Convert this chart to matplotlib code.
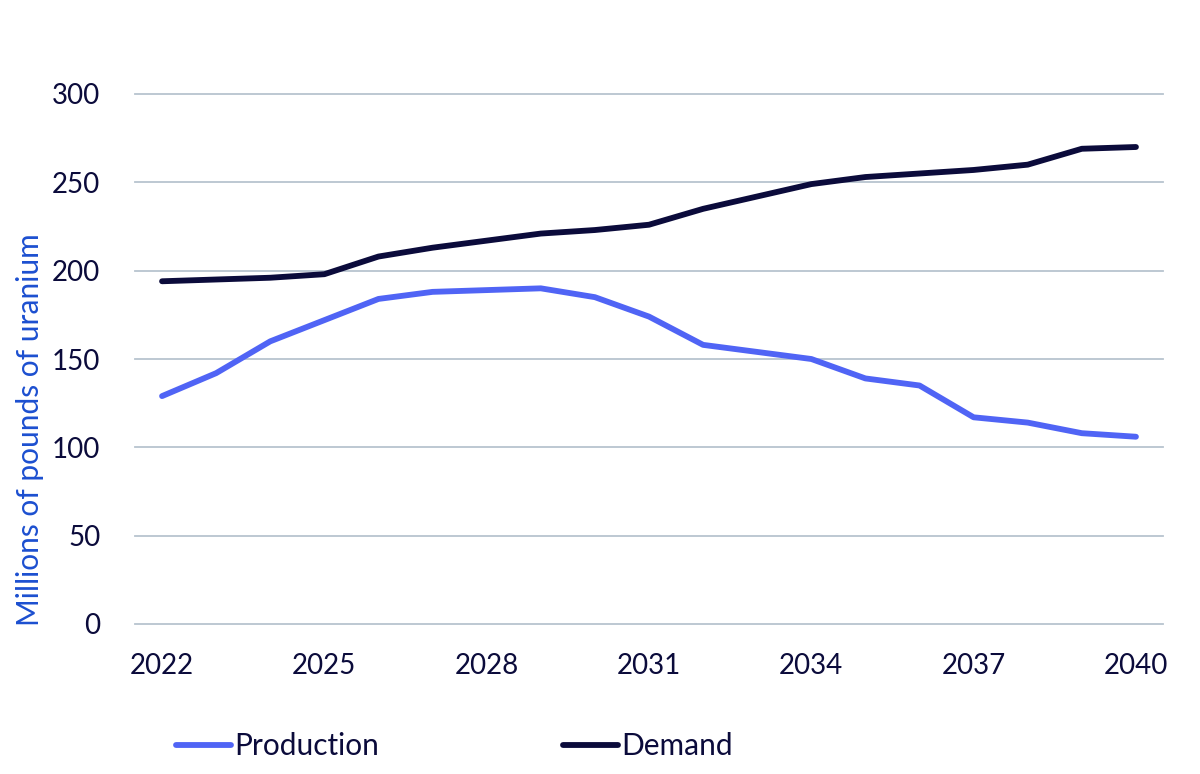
import matplotlib
matplotlib.use("Agg")
import matplotlib.pyplot as plt

years = list(range(2022, 2041))
production = [129, 142, 160, 172, 184, 188, 189, 190, 185, 174, 158, 154, 150, 139, 135, 117, 114, 108, 106]
demand = [194, 195, 196, 198, 208, 213, 217, 221, 223, 226, 235, 242, 249, 253, 255, 257, 260, 269, 270]
xticks = [2022, 2025, 2028, 2031, 2034, 2037, 2040]
yticks = [0, 50, 100, 150, 200, 250, 300]

plt.rcParams['font.family'] = ['Lato', 'DejaVu Sans']
navy = '#0b0b3b'
fig = plt.figure(figsize=(12, 7.74), dpi=100)
ax = fig.add_axes([135/1200, 1-624/774, (1163-135)/1200, (624-94)/774])

ax.plot(years, production, color='#5064f5', lw=4.2, label='Production', solid_capstyle='round', clip_on=False)
ax.plot(years, demand, color=navy, lw=4.2, label='Demand', solid_capstyle='round', clip_on=False)

ax.set_xlim(2021.5, 2040.5)
ax.set_ylim(0, 300)
ax.set_xticks(xticks)
ax.set_yticks(yticks)
ax.grid(axis='y', color='#b8c4cf', lw=1.3, clip_on=False)
ax.set_axisbelow(True)
for s in ax.spines.values():
    s.set_visible(False)
ax.tick_params(axis='both', length=0, labelsize=20, colors=navy)
ax.tick_params(axis='x', pad=21)
ax.tick_params(axis='y', pad=25)

fig.text(30/1200, 1-430/774, 'Millions of pounds of uranium', rotation=90,
         ha='center', va='center', fontsize=21.5, color='#1c4fd0')

fig.legend(loc='center left', bbox_to_anchor=(164/1200, 1-746/774), ncol=2, frameon=False,
           fontsize=21.5, handlelength=1.85, handletextpad=0.1, columnspacing=6.15,
           labelcolor=navy, borderaxespad=0)

fig.savefig('out.png', dpi=100)
